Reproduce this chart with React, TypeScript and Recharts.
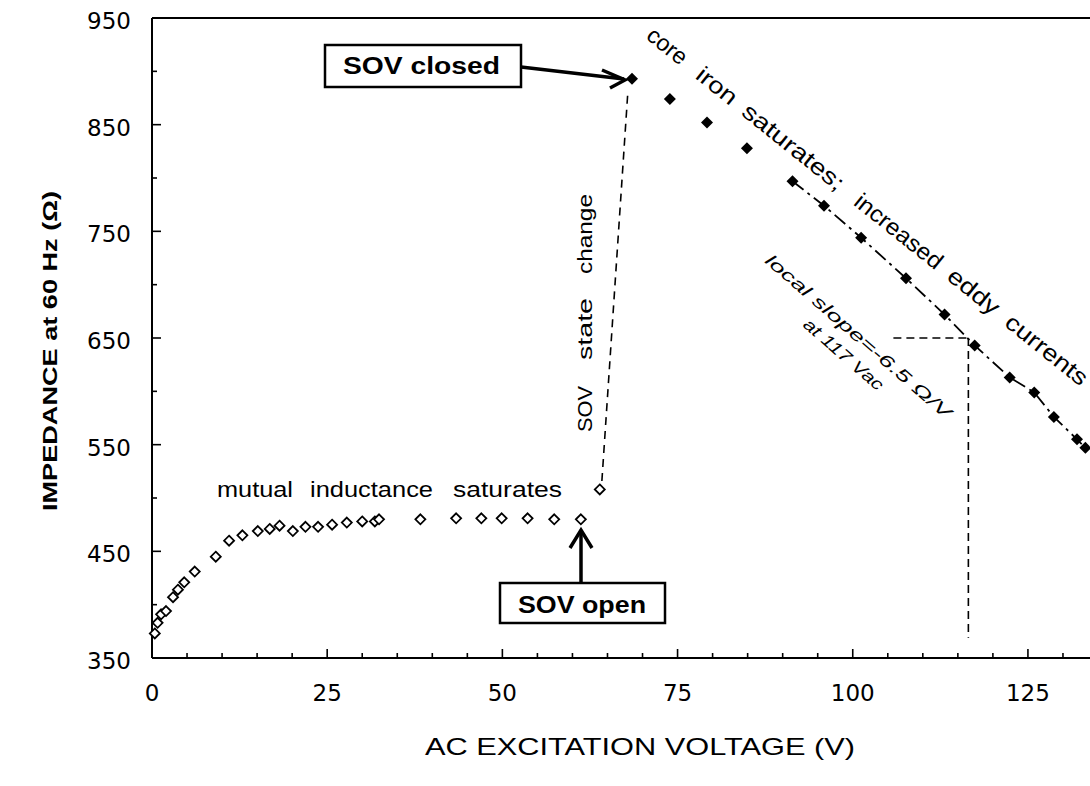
import React from "react";
import { ComposedChart, Scatter, Line, XAxis, YAxis, ReferenceLine } from "recharts";

// open diamonds: SOV open branch
const openVoltage = [0.4, 0.8, 1.3, 2.0, 3.0, 3.7, 4.6, 6.1, 9.1, 11.0, 12.9, 15.1, 16.8, 18.2, 20.1, 21.9, 23.7, 25.7, 27.8, 30.0, 31.8, 32.4, 38.3, 43.4, 47.0, 49.9, 53.6, 57.4, 61.2, 63.9];
const openImpedance = [373, 383, 391, 394, 407, 414, 421, 431, 445, 460, 465, 469, 471, 474, 469, 473, 473, 475, 477, 478, 478, 480, 480, 481, 481, 481, 481, 480, 480, 508];

// filled diamonds: SOV closed branch
const closedVoltage = [68.5, 73.9, 79.2, 84.9, 91.4, 95.9, 101.2, 107.6, 113.1, 117.4, 122.4, 125.9, 128.7, 132.0, 133.2];
const closedImpedance = [893, 874, 852, 828, 797, 774, 744, 706, 672, 643, 613, 599, 576, 555, 547];

const xTicks = [0, 5, 10, 15, 20, 25, 30, 35, 40, 45, 50, 55, 60, 65, 70, 75, 80, 85, 90, 95, 100, 105, 110, 115, 120, 125, 130];
const yTicks = [350, 400, 450, 500, 550, 600, 650, 700, 750, 800, 850, 900, 950];
const xLabelTicks = [0, 25, 50, 75, 100, 125];
const yLabelTicks = [350, 450, 550, 650, 750, 850, 950];

const openData = openVoltage.map((x, i) => ({ x, y: openImpedance[i] }));
const closedData = closedVoltage.map((x, i) => ({ x, y: closedImpedance[i] }));
const fitData = closedData.slice(4);

// words of the rotated annotation, with offset and length along the text line
const coreWords = [
  { word: "core", at: 0, len: 45 },
  { word: "iron", at: 63, len: 46 },
  { word: "saturates;", at: 122, len: 124 },
  { word: "increased", at: 266, len: 106 },
  { word: "eddy", at: 385, len: 60 },
  { word: "currents", at: 459, len: 99 },
];
const stateWords = [
  { word: "SOV", at: 0, len: 46 },
  { word: "state", at: 72, len: 62 },
  { word: "change", at: 158, len: 80 },
];
const mutualWords = [
  { word: "mutual", at: 217, len: 76 },
  { word: "inductance", at: 310, len: 123 },
  { word: "saturates", at: 453, len: 109 },
];

const tickFont = "'DejaVu Sans', sans-serif";
const textFont = "'Liberation Sans', Arial, sans-serif";

function BottomTick(props: any) {
  const { x, y, payload } = props;
  const major = xLabelTicks.includes(payload.value);
  return (
    <g>
      <line x1={x} x2={x} y1={y} y2={y - (major ? 9 : 5)} stroke="#000" strokeWidth={1.6} />
      {major && (
        <text x={x} y={y + 43} textAnchor="middle" fontFamily={tickFont} fontSize={23} fill="#000">
          {payload.value}
        </text>
      )}
    </g>
  );
}

function TopTick(props: any) {
  const { x, y, payload } = props;
  const major = xLabelTicks.includes(payload.value);
  return <line x1={x} x2={x} y1={y} y2={y + (major ? 9 : 5)} stroke="#000" strokeWidth={1.6} />;
}

function LeftTick(props: any) {
  const { x, y, payload } = props;
  const major = yLabelTicks.includes(payload.value);
  return (
    <g>
      <line x1={x} x2={x + (major ? 9 : 5)} y1={y} y2={y} stroke="#000" strokeWidth={1.6} />
      {major && (
        <text x={x - 21} y={y + 11} textAnchor="end" fontFamily={tickFont} fontSize={23} fill="#000">
          {payload.value}
        </text>
      )}
    </g>
  );
}

function RightTick(props: any) {
  const { x, y, payload } = props;
  const major = yLabelTicks.includes(payload.value);
  return <line x1={x} x2={x - (major ? 9 : 5)} y1={y} y2={y} stroke="#000" strokeWidth={1.6} />;
}

function OpenDiamond(props: any) {
  const { cx, cy } = props;
  const r = 5;
  return (
    <path
      d={`M${cx},${cy - r}L${cx + r},${cy}L${cx},${cy + r}L${cx - r},${cy}Z`}
      fill="#fff"
      stroke="#000"
      strokeWidth={1.8}
    />
  );
}

function FilledDiamond(props: any) {
  const { cx, cy } = props;
  const r = 6;
  return <path d={`M${cx},${cy - r}L${cx + r},${cy}L${cx},${cy + r}L${cx - r},${cy}Z`} fill="#000" />;
}

function Annotations() {
  return (
    <svg
      width={1090}
      height={786}
      style={{ position: "absolute", left: 0, top: 0, pointerEvents: "none" }}
    >
      {/* axis titles */}
      <text
        transform="translate(57,351) rotate(-90)"
        textAnchor="middle"
        fontFamily={textFont}
        fontWeight="bold"
        fontSize={21}
        textLength={320}
        lengthAdjust="spacingAndGlyphs"
      >
        IMPEDANCE at 60 Hz (Ω)
      </text>
      <text
        x={425}
        y={755}
        fontFamily={textFont}
        fontSize={24}
        textLength={430}
        lengthAdjust="spacingAndGlyphs"
      >
        AC EXCITATION VOLTAGE (V)
      </text>

      {/* mutual inductance saturates */}
      {mutualWords.map((w) => (
        <text key={w.word} x={w.at} y={497} fontFamily={textFont} fontSize={22} textLength={w.len} lengthAdjust="spacingAndGlyphs">
          {w.word}
        </text>
      ))}

      {/* SOV state change */}
      <g transform="translate(592,432) rotate(-90)">
        {stateWords.map((w) => (
          <text key={w.word} x={w.at} y={0} fontFamily={textFont} fontSize={21} textLength={w.len} lengthAdjust="spacingAndGlyphs">
            {w.word}
          </text>
        ))}
      </g>

      {/* core iron saturates; increased eddy currents */}
      <g transform="translate(645,38) rotate(38.7)">
        {coreWords.map((w) => (
          <text key={w.word} x={w.at} y={0} fontFamily={textFont} fontSize={23} textLength={w.len} lengthAdjust="spacingAndGlyphs">
            {w.word}
          </text>
        ))}
      </g>

      {/* local slope */}
      <text
        transform="translate(764,262) rotate(41)"
        fontFamily={textFont}
        fontStyle="italic"
        fontSize={17}
        textLength={240}
        lengthAdjust="spacingAndGlyphs"
      >
        local slope=-6.5 Ω/V
      </text>
      <text
        transform="translate(802,326) rotate(41)"
        fontFamily={textFont}
        fontStyle="italic"
        fontSize={17}
        textLength={100}
        lengthAdjust="spacingAndGlyphs"
      >
        at 117 Vac
      </text>

      {/* SOV closed box + arrow */}
      <rect x={325} y={45} width={196} height={42} fill="#fff" stroke="#000" strokeWidth={2.5} />
      <text x={343} y={74} fontFamily={textFont} fontWeight="bold" fontSize={23} textLength={157} lengthAdjust="spacingAndGlyphs">
        SOV closed
      </text>
      <line x1={521} y1={67} x2={624} y2={79} stroke="#000" strokeWidth={3.5} />
      <polyline points="602,70 625,80 610,88" fill="none" stroke="#000" strokeWidth={3.5} />

      {/* SOV open box + arrow */}
      <rect x={500} y={583} width={165} height={40} fill="#fff" stroke="#000" strokeWidth={2.5} />
      <text x={518} y={613} fontFamily={textFont} fontWeight="bold" fontSize={23} textLength={128} lengthAdjust="spacingAndGlyphs">
        SOV open
      </text>
      <line x1={581} y1={531} x2={581} y2={583} stroke="#000" strokeWidth={3.5} />
      <polyline points="570,548 581,530 592,548" fill="none" stroke="#000" strokeWidth={3.5} />
    </svg>
  );
}

export default function App() {
  return (
    <div
      style={{
        position: "absolute",
        left: 0,
        top: 0,
        width: 1090,
        height: 786,
        overflow: "hidden",
        background: "#fff",
      }}
    >
      <ComposedChart width={1092} height={786} margin={{ top: 17, right: 0, bottom: 0, left: 0 }}>
        <XAxis
          dataKey="x"
          type="number"
          domain={[0, 134]}
          ticks={xTicks}
          interval={0}
          height={128}
          tickSize={0}
          tickMargin={0}
          tickLine={false}
          tick={<BottomTick />}
          axisLine={{ stroke: "#000", strokeWidth: 2 }}
        />
        <XAxis
          xAxisId="top"
          orientation="top"
          dataKey="x"
          type="number"
          domain={[0, 134]}
          ticks={xTicks}
          interval={0}
          height={1}
          tickSize={0}
          tickMargin={0}
          tickLine={false}
          tick={<TopTick />}
          axisLine={{ stroke: "#000", strokeWidth: 2 }}
        />
        <YAxis
          type="number"
          domain={[350, 950]}
          ticks={yTicks}
          interval={0}
          width={152}
          tickSize={0}
          tickMargin={0}
          tickLine={false}
          tick={<LeftTick />}
          axisLine={{ stroke: "#000", strokeWidth: 2 }}
        />
        <YAxis
          yAxisId="right"
          orientation="right"
          type="number"
          domain={[350, 950]}
          ticks={yTicks}
          interval={0}
          width={1}
          tickSize={0}
          tickMargin={0}
          tickLine={false}
          tick={<RightTick />}
          axisLine={false}
        />

        <ReferenceLine
          segment={[{ x: 64.2, y: 516 }, { x: 67.9, y: 880 }]}
          stroke="#000"
          strokeWidth={1.6}
          strokeDasharray="8 6"
        />
        <ReferenceLine
          segment={[{ x: 105.8, y: 650 }, { x: 116.5, y: 650 }]}
          stroke="#000"
          strokeWidth={1.6}
          strokeDasharray="8 5"
        />
        <ReferenceLine
          segment={[{ x: 116.5, y: 650 }, { x: 116.5, y: 369 }]}
          stroke="#000"
          strokeWidth={1.6}
          strokeDasharray="8 5"
        />

        <Line
          data={fitData}
          dataKey="y"
          type="linear"
          stroke="#000"
          strokeWidth={1.8}
          strokeDasharray="14 5 3 5"
          dot={false}
          activeDot={false}
          isAnimationActive={false}
        />
        <Scatter data={openData} dataKey="y" shape={<OpenDiamond />} isAnimationActive={false} />
        <Scatter data={closedData} dataKey="y" shape={<FilledDiamond />} isAnimationActive={false} />
      </ComposedChart>
      <Annotations />
    </div>
  );
}
